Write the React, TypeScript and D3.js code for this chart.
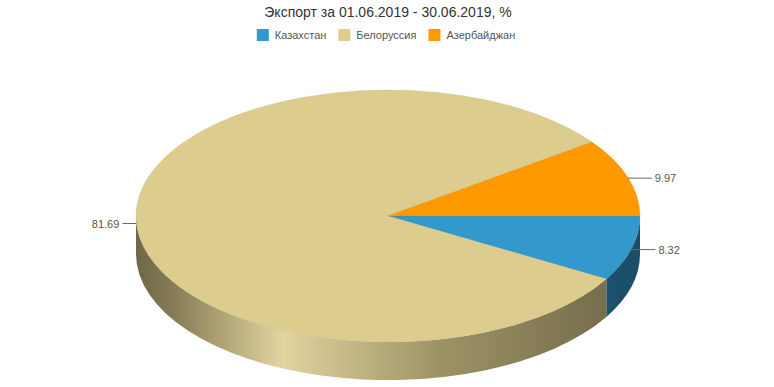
import React from 'react';
import * as d3 from 'd3';

// chart data
const countries = ['Казахстан', 'Белоруссия', 'Азербайджан'];
const shares = [8.32, 81.69, 9.97];
const colors = ['#3399cc', '#dccc8e', '#ff9900'];
const title = 'Экспорт за 01.06.2019 - 30.06.2019, %';

const W = 774;
const H = 387;
const cx = 388;
const cy = 216;
const rx = 252;
const ry = 126;
const depth = 38;
const FONT = 'Arial, "Liberation Sans", sans-serif';

const measure = (() => {
  let ctx: CanvasRenderingContext2D | null = null;
  return (t: string, size: number) => {
    if (!ctx) ctx = document.createElement('canvas').getContext('2d');
    if (!ctx) return t.length * size * 0.55;
    ctx.font = `${size}px ${FONT}`;
    return ctx.measureText(t).width;
  };
})();

// angle 0 = 3 o'clock, growing clockwise on screen
const pt = (a: number, dy = 0) => [cx + rx * Math.cos(a), cy + ry * Math.sin(a) + dy];

const App = () => {
  const arcs = d3
    .pie<number>()
    .sort(null)
    .value(d => d)(shares)
    .map((d, i) => ({
      i,
      a0: d.startAngle,
      a1: d.endAngle,
      value: d.data,
    }));

  const topPath = (a0: number, a1: number) => {
    const [x0, y0] = pt(a0);
    const [x1, y1] = pt(a1);
    const large = a1 - a0 > Math.PI ? 1 : 0;
    return `M${cx},${cy}L${x0},${y0}A${rx},${ry} 0 ${large} 1 ${x1},${y1}Z`;
  };

  const sidePath = (a0: number, a1: number) => {
    const s = Math.max(a0, 0);
    const e = Math.min(a1, Math.PI);
    if (e <= s) return null;
    const [x0, y0] = pt(s);
    const [x1, y1] = pt(e);
    return `M${x0},${y0}A${rx},${ry} 0 0 1 ${x1},${y1}L${x1},${y1 + depth}A${rx},${ry} 0 0 0 ${x0},${y0 + depth}Z`;
  };

  const dark = (c: string, k: number) => {
    const col = d3.rgb(c);
    return d3.rgb(col.r * k, col.g * k, col.b * k).formatHex();
  };
  const light = (c: string) => d3.interpolateRgb(c, '#ffffff')(0.15);

  // legend layout
  const legendItems = countries.map(c => 12 + 6 + measure(c, 11));
  const gap = 12;
  const legendW = d3.sum(legendItems) + gap * (countries.length - 1);
  let lx = cx - legendW / 2 - 2;
  const legendX = legendItems.map(w => {
    const x = lx;
    lx += w + gap;
    return x;
  });

  return (
    <svg width={W} height={H} style={{ position: 'absolute', left: 0, top: 0, fontFamily: FONT }}>
      <defs>
        {colors.map((c, i) => (
          <linearGradient key={i} id={`side${i}`} gradientUnits="userSpaceOnUse" x1={cx - rx} x2={cx + rx} y1={0} y2={0}>
            <stop offset="0%" stopColor={dark(c, 0.5)} />
            <stop offset="8%" stopColor={dark(c, 0.62)} />
            <stop offset="29%" stopColor={light(c)} />
            <stop offset="60%" stopColor={dark(c, 0.72)} />
            <stop offset="100%" stopColor={dark(c, 0.5)} />
          </linearGradient>
        ))}
      </defs>
      <rect width={W} height={H} fill="#fff" />
      <text x={cx} y={17} textAnchor="middle" fontSize={14} fill="#333">
        {title}
      </text>
      <g>
        {countries.map((c, i) => (
          <g key={c} transform={`translate(${legendX[i]},29)`}>
            <rect width={12} height={12} fill={colors[i]} />
            <text x={18} y={10} fontSize={11} fill="#555">
              {c}
            </text>
          </g>
        ))}
      </g>
      {arcs.map(d => {
        const p = sidePath(d.a0, d.a1);
        return p ? <path key={'s' + d.i} d={p} fill={`url(#side${d.i})`} /> : null;
      })}
      {arcs.map(d => (
        <path
          key={'t' + d.i}
          d={topPath(d.a0, d.a1)}
          fill={colors[d.i]}
          stroke={dark(colors[d.i], 0.85)}
          strokeWidth={0.6}
          strokeOpacity={0.5}
        />
      ))}
      {arcs.map(d => {
        const mid = (d.a0 + d.a1) / 2;
        const [x, y0] = pt(mid);
        const y = y0 + 1;
        const right = Math.cos(mid) >= 0;
        const x2 = right ? x + 24 : x - 14;
        const tx = right ? x2 + 3 : x2 - 3;
        return (
          <g key={'l' + d.i}>
            <line x1={x} y1={y} x2={x2} y2={y} stroke="#666" strokeWidth={1} />
            <text x={tx} y={y + 4} fontSize={11} fill="#555" textAnchor={right ? 'start' : 'end'}>
              {d3.format('.2f')(d.value)}
            </text>
          </g>
        );
      })}
    </svg>
  );
};

export default App;
